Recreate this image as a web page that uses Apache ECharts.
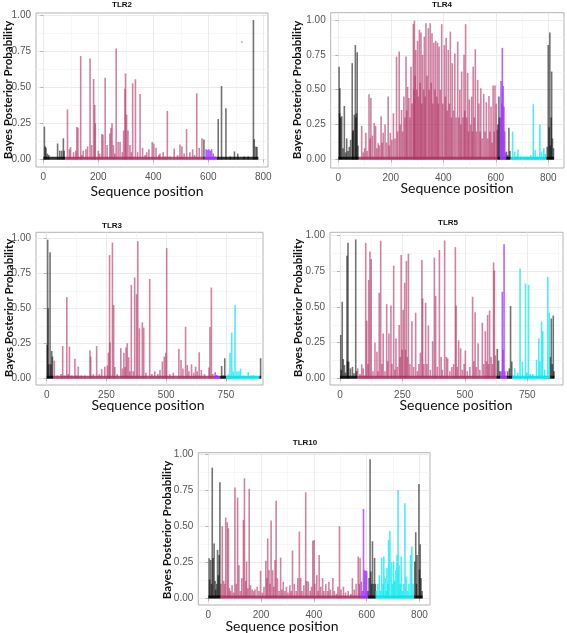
<!DOCTYPE html>
<html><head><meta charset="utf-8">
<script src="https://cdn.jsdelivr.net/npm/echarts@6/dist/echarts.min.js"></script>
<style>html,body{margin:0;padding:0;background:#fff}#c{width:567px;height:633px}</style>
</head><body><div id="c"></div>
<script>
// ---------- DATA ----------
const panelNames = ['TLR2', 'TLR4', 'TLR3', 'TLR5', 'TLR10'];
const xTicks800 = [0, 200, 400, 600, 800];
const xMinor800 = [100, 300, 500, 700];
const xTicks750 = [0, 250, 500, 750];
const xMinor750 = [125, 375, 625, 875];
const yTicks = [0, 0.25, 0.5, 0.75, 1];
const yMinor = [0.125, 0.375, 0.625, 0.875];
const yTickLabels = ['0.00', '0.25', '0.50', '0.75', '1.00'];
const xAxisTitle = 'Sequence position';
const yAxisTitle = 'Bayes Posterior Probability';
const domainOrder = ['lrr', 'other', 'tm', 'tir'];

// TLR2
const tlr2Other = [[4,0.227],[7,0.09],[10,0.08],[15,0.04],[20,0.03],[52,0.11],[60,0.06],[67,0.06],[73,0.146],[76,0.06],[584,0.138],[636,0.28],[648,0.509],[664,0.355],[680,0.02],[695,0.055],[707,0.04],[730,0.02],[745,0.02],[764,0.967],[767,0.14],[773,0.09],[777,0.085]];
const tlr2Lrr = [[88,0.347],[95,0.07],[99,0.085],[110,0.05],[118,0.06],[122,0.225],[126,0.22],[136,0.717],[140,0.03],[145,0.06],[155,0.07],[161,0.09],[170,0.70],[176,0.10],[183,0.558],[187,0.377],[189,0.25],[200,0.06],[205,0.04],[213,0.176],[217,0.17],[225,0.567],[232,0.10],[242,0.18],[246,0.22],[250,0.25],[255,0.10],[260,0.04],[265,0.77],[272,0.12],[279,0.12],[287,0.05],[292,0.20],[297,0.49],[299,0.597],[303,0.31],[308,0.20],[315,0.10],[320,0.05],[325,0.528],[335,0.556],[343,0.05],[352,0.454],[361,0.08],[370,0.03],[376,0.05],[384,0.07],[396,0.12],[402,0.11],[410,0.08],[420,0.03],[424,0.04],[436,0.05],[445,0.02],[451,0.336],[461,0.02],[476,0.075],[488,0.03],[497,0.104],[504,0.09],[512,0.04],[521,0.21],[533,0.05],[543,0.07],[550,0.03],[558,0.458],[567,0.08],[577,0.146]];
const tlr2Tm = [[592,0.07],[597,0.065],[602,0.07],[607,0.06],[612,0.07],[618,0.04],[625,0.02]];
const tlr2Tir = [];
const tlr2Points = [[722,0.815]];
const tlr2Domains = [['other',0,80],['lrr',80,588],['tm',588,630],['other',630,782]];

// TLR4
const tlr4Other = [[3,0.665],[5,0.33],[6,0.51],[9,0.3],[13,0.31],[18,0.08],[23,0.383],[28,0.05],[32,0.15],[37,0.06],[42,0.09],[47,0.14],[53,0.69],[55,0.2],[57,0.21],[61,0.32],[65,0.82],[67,0.3],[69,0.33],[72,0.768],[75,0.1],[608,0.25],[612,0.45],[614,0.3],[641,0.055],[645,0.03],[650,0.227],[654,0.06],[796,0.09],[800,0.82],[803,0.23],[806,0.91],[808,0.1],[811,0.3],[813,0.63],[816,0.15],[820,0.08]];
const tlr4Lrr = [[89,0.24],[95,0.05],[100,0.08],[105,0.19],[110,0.06],[117,0.467],[121,0.15],[124,0.44],[130,0.17],[137,0.26],[142,0.24],[147,0.08],[152,0.115],[157,0.1],[163,0.31],[167,0.12],[171,0.19],[178,0.25],[184,0.12],[190,0.45],[194,0.1],[198,0.19],[204,0.14],[210,0.33],[216,0.15],[222,0.737],[226,0.2],[232,0.773],[236,0.25],[241,0.354],[245,0.2],[250,0.45],[254,0.3],[258,0.737],[261,0.35],[264,0.52],[269,0.44],[273,0.3],[277,0.665],[281,0.4],[286,0.97],[288,0.5],[290,0.995],[292,0.6],[295,0.785],[299,0.5],[302,0.85],[305,0.45],[309,0.93],[312,0.55],[315,0.91],[318,0.4],[321,0.75],[325,0.5],[328,0.88],[331,0.45],[334,0.976],[338,0.6],[343,0.94],[346,0.5],[350,0.976],[354,0.55],[357,0.904],[360,0.4],[364,0.837],[368,0.5],[371,0.85],[375,0.45],[378,0.837],[381,0.4],[384,0.81],[389,0.5],[394,0.97],[398,0.4],[404,0.82],[408,0.45],[411,0.87],[415,0.35],[419,0.785],[423,0.4],[427,0.916],[431,0.3],[434,0.69],[439,0.35],[444,0.76],[449,0.3],[455,0.845],[459,0.3],[463,0.5],[467,0.25],[470,0.63],[475,0.3],[479,0.75],[482,0.35],[485,0.97],[489,0.3],[493,0.62],[496,0.2],[499,0.43],[504,0.25],[508,0.45],[511,0.2],[514,0.665],[518,0.3],[522,0.79],[526,0.2],[531,0.57],[536,0.40],[540,0.2],[543,0.51],[548,0.15],[554,0.47],[559,0.2],[564,0.41],[569,0.15],[574,0.455],[578,0.2],[582,0.38],[586,0.12],[590,0.53],[594,0.2],[597,0.53],[602,0.40],[605,0.21]];
const tlr4Tm = [[618,0.3],[620,0.562],[623,0.4],[625,0.80],[628,0.526],[631,0.38],[634,0.2],[637,0.05]];
const tlr4Tir = [[664,0.20],[672,0.055],[680,0.02],[685,0.07],[695,0.02],[710,0.02],[722,0.02],[733,0.03],[743,0.395],[750,0.065],[758,0.02],[768,0.25],[775,0.055],[783,0.08],[789,0.04]];
const tlr4Points = [];
const tlr4Domains = [['other',0,78],['lrr',78,607],['other',607,616],['tm',616,638],['other',638,656],['tir',656,793],['other',793,822]];

// TLR3
const tlr3Other = [[2,0.24],[4,0.99],[6,0.5],[9,0.1],[14,0.90],[17,0.1],[21,0.195],[24,0.155],[732,0.088],[738,0.02],[745,0.143],[895,0.143]];
const tlr3Lrr = [[32,0.126],[45,0.02],[60,0.03],[67,0.23],[75,0.02],[84,0.58],[90,0.03],[95,0.226],[105,0.02],[118,0.14],[125,0.02],[132,0.083],[145,0.02],[160,0.02],[181,0.2],[184,0.155],[195,0.03],[209,0.23],[220,0.03],[230,0.065],[243,0.083],[254,0.09],[258,0.183],[263,0.88],[265,0.255],[275,0.97],[280,0.524],[285,0.08],[295,0.03],[310,0.215],[317,0.07],[323,0.183],[328,0.08],[332,0.22],[337,0.25],[343,0.15],[348,0.05],[354,0.667],[362,0.05],[368,0.72],[376,0.60],[381,0.98],[388,0.357],[400,0.40],[406,0.362],[415,0.04],[431,0.71],[440,0.03],[452,0.05],[465,0.03],[474,0.06],[484,0.12],[492,0.155],[498,0.183],[502,0.93],[515,0.03],[530,0.04],[553,0.21],[562,0.13],[570,0.07],[581,0.367],[588,0.095],[595,0.05],[606,0.10],[615,0.04],[623,0.083],[630,0.05],[638,0.186],[647,0.06],[660,0.03],[679,0.077],[683,0.367],[689,0.648],[695,0.03]];
const tlr3Tm = [[705,0.043],[712,0.024],[718,0.01]];
const tlr3Tir = [[760,0.03],[767,0.183],[774,0.326],[780,0.05],[788,0.524],[796,0.05],[804,0.05],[811,0.07],[825,0.02],[843,0.045],[855,0.02],[864,0.024],[875,0.01]];
const tlr3Points = [];
const tlr3Domains = [['other',0,27],['lrr',27,700],['tm',700,725],['other',725,752],['tir',752,890],['other',890,897]];

// TLR5
const tlr5Other = [[3,0.304],[5,0.06],[9,0.537],[13,0.135],[18,0.093],[22,0.04],[28,0.86],[30,0.12],[32,0.95],[35,0.117],[42,0.07],[50,0.08],[56,0.035],[63,0.974],[66,0.05],[630,0.206],[635,0.124],[640,0.05],[671,0.05],[678,0.07],[683,0.507],[688,0.117],[842,0.15],[846,0.42],[850,0.1],[854,0.44],[857,0.05]];
const tlr5Lrr = [[71,0.07],[80,0.03],[87,0.098],[93,0.07],[98,0.02],[103,0.95],[107,0.404],[112,0.1],[115,0.69],[120,0.89],[125,0.836],[132,0.05],[140,0.25],[148,0.187],[152,0.05],[157,0.60],[163,0.965],[168,0.1],[173,0.315],[180,0.05],[187,0.52],[191,0.12],[196,0.315],[204,0.51],[208,0.1],[215,0.79],[220,0.06],[224,0.28],[230,0.08],[237,0.374],[241,0.15],[245,0.865],[249,0.2],[253,0.48],[259,0.67],[262,0.2],[266,0.823],[270,0.15],[274,0.874],[280,0.1],[288,0.40],[295,0.08],[303,0.46],[310,0.05],[316,0.1],[322,0.18],[328,0.83],[331,0.56],[336,0.1],[343,0.53],[348,0.1],[354,0.37],[362,0.06],[371,0.26],[378,0.846],[383,0.577],[390,0.08],[398,0.90],[405,0.15],[410,0.06],[419,0.967],[426,0.15],[431,0.14],[440,0.05],[448,0.08],[455,0.1],[462,0.92],[465,0.51],[470,0.08],[475,0.266],[483,0.21],[490,0.06],[497,0.1],[502,0.194],[510,0.05],[520,0.08],[531,0.572],[536,0.12],[541,0.463],[546,0.08],[553,0.245],[560,0.06],[570,0.39],[576,0.1],[582,0.33],[587,0.12],[591,0.444],[595,0.1],[599,0.475],[605,0.15],[610,0.1],[615,0.813],[618,0.755],[622,0.16]];
const tlr5Tm = [[645,0.05],[650,0.607],[653,0.2],[657,0.94],[660,0.05],[665,0.02]];
const tlr5Tir = [[693,0.02],[700,0.07],[712,0.04],[721,0.77],[730,0.117],[743,0.665],[748,0.04],[755,0.655],[762,0.03],[772,0.03],[787,0.13],[796,0.28],[801,0.12],[807,0.40],[812,0.33],[820,0.06],[832,0.71],[838,0.46]];
const tlr5Points = [];
const tlr5Domains = [['other',0,68],['lrr',68,626],['other',626,643],['tm',643,668],['other',668,690],['tir',690,840],['other',840,858]];

// TLR10
const tlr10Other = [[3,0.278],[5,0.13],[9,0.266],[12,0.1],[15,0.907],[18,0.28],[22,0.38],[26,0.12],[28,0.06],[32,0.1],[35,0.336],[38,0.16],[41,0.30],[44,0.805],[605,0.05],[609,0.14],[613,0.965],[616,0.185],[619,0.1],[622,0.396],[626,0.1],[630,0.28],[633,0.1],[782,0.255],[786,0.458],[789,0.1],[791,0.3],[798,0.794],[800,0.2],[803,0.375],[806,0.14],[810,0.05]];
const tlr10Lrr = [[48,0.1],[53,0.50],[58,0.12],[62,0.1],[66,0.56],[72,0.528],[76,0.486],[80,0.07],[84,0.05],[90,0.09],[96,0.04],[101,0.77],[106,0.1],[111,0.70],[116,0.23],[122,0.05],[127,0.14],[133,0.544],[137,0.833],[142,0.12],[145,0.255],[150,0.07],[155,0.76],[160,0.09],[166,0.06],[172,0.05],[177,0.06],[185,0.08],[192,0.05],[198,0.19],[205,0.04],[211,0.08],[218,0.26],[222,0.14],[225,0.416],[230,0.195],[234,0.1],[238,0.54],[244,0.195],[248,0.08],[253,0.266],[257,0.678],[262,0.14],[268,0.05],[274,0.282],[279,0.06],[284,0.115],[290,0.05],[296,0.08],[302,0.04],[309,0.09],[314,0.05],[319,0.33],[326,0.10],[333,0.05],[339,0.14],[345,0.463],[350,0.14],[355,0.05],[362,0.09],[369,0.736],[373,0.12],[379,0.115],[386,0.05],[391,0.08],[396,0.40],[401,0.405],[404,0.1],[411,0.16],[416,0.05],[420,0.30],[426,0.08],[433,0.14],[438,0.05],[445,0.10],[452,0.05],[457,0.115],[463,0.06],[472,0.14],[478,0.05],[486,0.03],[491,0.08],[497,0.50],[503,0.06],[512,0.08],[520,0.04],[530,0.05],[540,0.03],[546,0.14],[553,0.06],[560,0.1],[568,0.29],[572,0.1],[575,0.278]];
const tlr10Tm = [[580,0.115],[584,0.05],[588,0.62],[592,0.195],[596,0.19],[600,0.19],[603,0.05]];
const tlr10Tir = [[636,0.05],[642,0.1],[648,0.16],[652,0.05],[657,0.282],[662,0.1],[665,0.29],[670,0.14],[674,0.05],[677,0.21],[680,0.1],[683,0.405],[688,0.467],[694,0.25],[698,0.1],[702,0.255],[706,0.12],[710,0.195],[715,0.3],[719,0.752],[723,0.23],[727,0.1],[731,0.29],[736,0.05],[740,0.1],[745,0.66],[750,0.15],[755,0.05],[760,0.1],[766,0.3],[771,0.36],[776,0.1]];
const tlr10Points = [];
const tlr10Domains = [['other',0,46],['lrr',46,578],['tm',578,604],['other',604,635],['tir',635,780],['other',780,812]];

// ---------- ASSEMBLY ----------
const panelData = {
  TLR2: {other: tlr2Other, lrr: tlr2Lrr, tm: tlr2Tm, tir: tlr2Tir, points: tlr2Points, domains: tlr2Domains, ticks: xTicks800, minor: xMinor800},
  TLR4: {other: tlr4Other, lrr: tlr4Lrr, tm: tlr4Tm, tir: tlr4Tir, points: tlr4Points, domains: tlr4Domains, ticks: xTicks800, minor: xMinor800},
  TLR3: {other: tlr3Other, lrr: tlr3Lrr, tm: tlr3Tm, tir: tlr3Tir, points: tlr3Points, domains: tlr3Domains, ticks: xTicks750, minor: xMinor750},
  TLR5: {other: tlr5Other, lrr: tlr5Lrr, tm: tlr5Tm, tir: tlr5Tir, points: tlr5Points, domains: tlr5Domains, ticks: xTicks750, minor: xMinor750},
  TLR10: {other: tlr10Other, lrr: tlr10Lrr, tm: tlr10Tm, tir: tlr10Tir, points: tlr10Points, domains: tlr10Domains, ticks: xTicks800, minor: xMinor800}
};

// ---------- LAYOUT & STYLE ----------
const layout = {
  TLR2:  {left: 36,    top: 13,    right: 268, bottom: 167, xMin: -26.5, xMax: 817, yMin: -0.053, yMax: 1.016, title: [122, 5],   ylab: [8, 90],    xlab: [147, 191]},
  TLR4:  {left: 330.7, top: 12.7,  right: 564, bottom: 168, xMin: -29,   xMax: 860, yMin: -0.062, yMax: 1.052, title: [442, 5],   ylab: [297, 90],  xlab: [457, 188]},
  TLR3:  {left: 36,    top: 232.3, right: 263, bottom: 385, xMin: -44.8, xMax: 905, yMin: -0.048, yMax: 1.043, title: [112, 226], ylab: [9, 308],   xlab: [148, 405]},
  TLR5:  {left: 330,   top: 232.3, right: 563, bottom: 385, xMin: -40,   xMax: 893, yMin: -0.047, yMax: 1.024, title: [448, 223], ylab: [298, 308], xlab: [456, 405]},
  TLR10: {left: 198.3, top: 452.7, right: 430, bottom: 605, xMin: -37.9, xMax: 840, yMin: -0.047, yMax: 1.011, title: [305, 443], ylab: [167, 530], xlab: [282, 626]}
};
const domainStyle = {
  other: {color: '#000000', opacity: 0.55},
  lrr:   {color: '#b03060', opacity: 0.6},
  tm:    {color: '#9b30ff', opacity: 0.75},
  tir:   {color: '#00e5ee', opacity: 0.7}
};
const tickFont = 'Liberation Sans';
const labelFont = 'Lato';

const grid = [], xAxis = [], yAxis = [], series = [], graphic = [];
panelNames.forEach((name, i) => {
  const L = layout[name], D = panelData[name];
  grid.push({left: L.left, top: L.top, width: L.right - L.left, height: L.bottom - L.top,
    show: true, borderColor: '#b3b3b3', borderWidth: 1, backgroundColor: '#fff', z: 0});
  xAxis.push({type: 'value', gridIndex: i, min: L.xMin, max: L.xMax,
    axisLine: {show: false},
    axisTick: {show: true, length: 3, lineStyle: {color: '#b3b3b3'}, customValues: D.ticks},
    axisLabel: {show: true, customValues: D.ticks, color: '#555', fontSize: 10, fontFamily: tickFont, margin: 5},
    splitLine: {show: true, lineStyle: {color: '#e6e6e6', width: 0.8}}});
  yAxis.push({type: 'value', gridIndex: i, min: L.yMin, max: L.yMax,
    axisLine: {show: false},
    axisTick: {show: true, length: 3, lineStyle: {color: '#b3b3b3'}, customValues: yTicks},
    axisLabel: {show: true, customValues: yTicks, color: '#555', fontSize: 10, fontFamily: tickFont, margin: 5,
      formatter: v => yTickLabels[yTicks.indexOf(v)] !== undefined ? yTickLabels[yTicks.indexOf(v)] : v.toFixed(2)},
    splitLine: {show: true, lineStyle: {color: '#e6e6e6', width: 0.8}}});
});
panelNames.forEach((name, i) => {
  const L = layout[name], D = panelData[name];
  xAxis.push({type: 'value', gridIndex: i, min: L.xMin, max: L.xMax, axisLine: {show: false},
    axisTick: {show: false, customValues: D.minor}, axisLabel: {show: false},
    splitLine: {show: true, lineStyle: {color: '#f2f2f2', width: 0.6}}});
  yAxis.push({type: 'value', gridIndex: i, min: L.yMin, max: L.yMax, axisLine: {show: false},
    axisTick: {show: false, customValues: yMinor}, axisLabel: {show: false},
    splitLine: {show: true, lineStyle: {color: '#f2f2f2', width: 0.6}}});
});

panelNames.forEach((name, i) => {
  const L = layout[name], D = panelData[name];
  D.domains.forEach(([dom, s, e]) => {
    const st = domainStyle[dom];
    series.push({type: 'line', xAxisIndex: i, yAxisIndex: i, data: [[s, 0.008], [e, 0.008]],
      symbol: 'none', silent: true, animation: false, z: 3,
      lineStyle: {color: st.color, opacity: Math.min(1, st.opacity + 0.25), width: 3}});
  });
  domainOrder.forEach(dom => {
    const st = domainStyle[dom];
    if (!D[dom].length) return;
    series.push({type: 'bar', xAxisIndex: i, yAxisIndex: i, data: D[dom], barWidth: 1.6, barGap: '-100%',
      silent: true, animation: false, z: 4, itemStyle: {color: st.color, opacity: st.opacity}});
  });
  if (D.points.length) {
    series.push({type: 'scatter', xAxisIndex: i, yAxisIndex: i, data: D.points, symbolSize: 1.5,
      silent: true, animation: false, itemStyle: {color: '#555'}});
  }
  graphic.push({type: 'text', x: L.title[0], y: L.title[1], style: {text: name, font: 'bold 8px "Liberation Sans"', fill: '#111', textAlign: 'center', textVerticalAlign: 'middle'}});
  graphic.push({type: 'text', x: L.xlab[0], y: L.xlab[1], style: {text: xAxisTitle, font: '14px "' + labelFont + '"', fill: '#111', textAlign: 'center', textVerticalAlign: 'middle'}});
  graphic.push({type: 'text', x: L.ylab[0], y: L.ylab[1], rotation: Math.PI / 2, style: {text: yAxisTitle, font: 'bold 11.5px "' + labelFont + '"', fill: '#111', textAlign: 'center', textVerticalAlign: 'middle'}});
});

const chart = echarts.init(document.getElementById('c'), null, {renderer: 'canvas'});
chart.setOption({animation: false, backgroundColor: '#fff', grid, xAxis, yAxis, series, graphic});
</script>
</body></html>
